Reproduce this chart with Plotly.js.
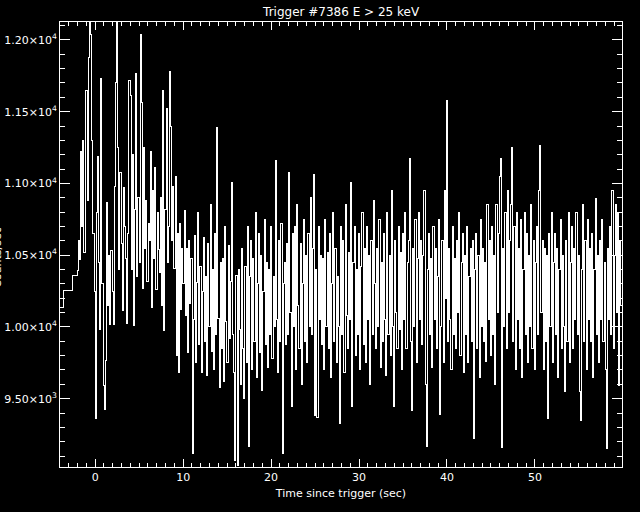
<!DOCTYPE html>
<html>
<head>
<meta charset="utf-8">
<script src="https://cdn.plot.ly/plotly-3.0.1.min.js"></script>
<style>
html,body{margin:0;padding:0;background:#000;}
#chart{width:640px;height:512px;}
#chart path.js-line{shape-rendering:crispEdges;}
#chart path.xtick, #chart path.ytick, #chart path.crisp{shape-rendering:crispEdges;}
</style>
</head>
<body>
<div id="chart"></div>
<script>
// Coarse pre-trigger bins (start times, sec) and rates (counts/sec)
const coarseStarts = [-4.608, -3.584, -2.56];
const coarseRates = [10134, 10254, 10357];
// Fine-resolution bins
const fineStart = -2.048;
const fineWidth = 0.128;
const fineRates = [
 10390, 10600, 10470, 11220, 10700, 11300, 10520, 11650,
 11650, 10880, 11880, 12200, 12040, 11300, 10650, 10250,
 9365, 10800, 11190, 10450, 9980, 11730, 10300, 9590,
 9425, 9765, 10870, 10150, 10500, 10020, 10535, 10250,
 10020, 10980, 11700, 12200, 11250, 10400, 11075, 10580,
 10115, 10970, 10700, 10480, 10025, 10650, 11715, 11610,
 10400, 11205, 10010, 10820, 11765, 10350, 10900, 10450,
 12040, 11565, 10270, 11250, 10550, 10880, 10320, 10720,
 10600, 11220, 10135, 10950, 10480, 11110, 10260, 10800,
 10540, 10380, 10900, 10150, 11650, 9975, 10820, 11525,
 10450, 10700, 11780, 11400, 10600, 10980, 10410, 11050,
 9800, 10650, 9680, 10720, 10125, 10550, 10300, 10810,
 10080, 10550, 9820, 10600, 10160, 10480, 9120, 10050,
 10640, 9750, 10310, 10800, 9880, 10420, 9680, 10250,
 10620, 9900, 10350, 9660, 10580, 10000, 10850, 9830,
 10400, 9700, 10650, 9950, 11390, 10060, 9580, 10450,
 9850, 10480, 9620, 10700, 10040, 9750, 10570, 9920,
 10320, 11010, 9950, 9680, 9070, 10360, 9035, 10400,
 9980, 9600, 10550, 9850, 9500, 10420, 9750, 10700,
 9170, 10350, 10600, 9700, 10480, 9900, 10800, 9650,
 10300, 10650, 9820, 10500, 9560, 10250, 10750, 9880,
 10450, 9720, 10400, 9950, 10700, 9780, 10350, 10000,
 11160, 10050, 9680, 10600, 9900, 10720, 9120, 10300,
 10450, 9880, 10580, 9950, 11075, 10100, 9445, 10650,
 10000, 10700, 9700, 10850, 10150, 9850, 10580, 9600,
 10300, 10750, 9900, 10500, 9750, 10650, 10000, 10900,
 9950, 10550, 11060, 9385, 10400, 9370, 10700, 10050,
 10500, 9880, 10480, 9700, 10750, 10000, 10520, 9850,
 10650, 9650, 10300, 10800, 9900, 10550, 9750, 10350,
 10000, 9330, 10700, 9950, 10600, 9680, 10850, 10080,
 9850, 10520, 10050, 11010, 9445, 10450, 10700, 9800,
 10400, 9950, 10650, 9700, 10420, 10800, 9880, 10550,
 9750, 10700, 10050, 10500, 9600, 10600, 9950, 10880,
 10300, 9850, 10550, 10000, 10750, 9720, 10450, 9900,
 10650, 10050, 9660, 10800, 9950, 10500, 9800, 10950,
 10000, 9445, 10600, 10100, 9850, 10700, 9980, 10520,
 9700, 10650, 10050, 10800, 9850, 10450, 10600, 11175,
 9900, 9420, 10550, 10000, 10750, 9750, 10480, 10800,
 10050, 10600, 9880, 10500, 10950, 9600, 9168, 10400,
 10650, 9950, 10480, 9720, 10700, 10050, 10550, 9850,
 10350, 10750, 9390, 10000, 10600, 9750, 10950, 10200,
 11580, 9900, 10550, 10050, 9700, 10700, 9950, 10480,
 9850, 10600, 10100, 10800, 9800, 10450, 10650, 9680,
 10500, 9950, 10700, 9750, 10350, 10550, 9900, 10600,
 9223, 10400, 10650, 9850, 10500, 9650, 10750, 10000,
 10550, 9900, 10450, 9760, 10850, 10050, 10600, 9800,
 10700, 9950, 10500, 9600, 10850, 10100, 10650, 11050,
 11175, 9160, 10550, 10000, 10800, 9850, 10950, 10100,
 10600, 10850, 11250, 9900, 10700, 9700, 10800, 10050,
 10550, 9850, 10750, 9650, 10400, 10800, 9950, 10650,
 9750, 10500, 10000, 10850, 9850, 10600, 9700, 10450,
 10700, 9950, 10950, 11265, 10100, 10600, 9700, 10550,
 9900, 10500, 9360, 10650, 10000, 10800, 9750, 10450,
 10650, 9950, 10550, 9650, 10400, 10750, 9850, 10500,
 10000, 9550, 10600, 9900, 10800, 9750, 10450, 10700,
 9850, 10550, 10050, 10800, 9950, 10500, 9550, 9350,
 10400, 10850, 9900, 10600, 9700, 10750, 10050, 10550,
 9900, 10650, 9650, 10400, 10895, 9950, 10500, 9750,
 10600, 10050, 10750, 9900, 10450, 9700, 9153, 10550,
 10050, 10700, 9950, 10950, 9850, 10500, 10850, 10100,
 10800, 9590, 10600, 10150, 10700, 10000, 10550, 10100
];
const yTickVals = [9500, 10000, 10500, 11000, 11500, 12000];
const yTickText = ['9.50×10<sup>3</sup>', '1.00×10<sup>4</sup>', '1.05×10<sup>4</sup>', '1.10×10<sup>4</sup>', '1.15×10<sup>4</sup>', '1.20×10<sup>4</sup>'];
const xTickVals = [0, 10, 20, 30, 40, 50];
const xTickText = ['0', '10', '20', '30', '40', '50'];

const xs = [], ys = [];
coarseStarts.forEach((t, i) => { xs.push(t); ys.push(coarseRates[i]); });
fineRates.forEach((v, i) => { xs.push(fineStart + i * fineWidth); ys.push(v); });
xs.push(fineStart + fineRates.length * fineWidth);
ys.push(fineRates[fineRates.length - 1]);

const font = {family: 'DejaVu Sans, sans-serif', color: '#ffffff', size: 11};

Plotly.newPlot('chart', [{
  x: xs, y: ys, type: 'scatter', mode: 'lines',
  line: {color: '#ffffff', width: 1, shape: 'hv'},
  hoverinfo: 'skip'
}], {
  width: 640, height: 512,
  paper_bgcolor: '#000000', plot_bgcolor: '#000000',
  margin: {l: 60, r: 18, t: 22, b: 45},
  showlegend: false,
  font: font,
  title: {text: 'Trigger #7386 E > 25 keV', font: {family: 'DejaVu Sans, sans-serif', color: '#ffffff', size: 12}, x: 0.533, xanchor: 'center', y: 0.985, yanchor: 'top'},
  xaxis: {
    range: [-4.0, 59.9], showgrid: false, zeroline: false,
    showline: true, linecolor: '#ffffff', linewidth: 1, mirror: 'ticks',
    ticks: 'inside', ticklen: 8, tickcolor: '#ffffff', tickwidth: 1,
    tickmode: 'array', tickvals: xTickVals, ticktext: xTickText,
    tickfont: font,
    minor: {tickmode: 'linear', tick0: 0, dtick: 1, ticks: 'inside', ticklen: 4, tickcolor: '#ffffff', showgrid: false},
    title: {text: 'Time since trigger (sec)', font: font, standoff: 6}
  },
  yaxis: {
    range: [9024, 12125], showgrid: false, zeroline: false,
    showline: true, linecolor: '#ffffff', linewidth: 1, mirror: 'ticks',
    ticks: 'inside', ticklen: 10, tickcolor: '#ffffff', tickwidth: 1,
    tickmode: 'array', tickvals: yTickVals, ticktext: yTickText,
    tickfont: font,
    minor: {tickmode: 'linear', tick0: 0, dtick: 100, ticks: 'inside', ticklen: 5, tickcolor: '#ffffff', showgrid: false}
  },
  annotations: [{
    text: 'Counts/sec', xref: 'paper', yref: 'paper', x: 0, y: 0.47,
    xanchor: 'center', yanchor: 'middle', xshift: -62, textangle: -90,
    showarrow: false, font: font
  }]
}, {displayModeBar: false, staticPlot: true});
</script>
</body>
</html>
